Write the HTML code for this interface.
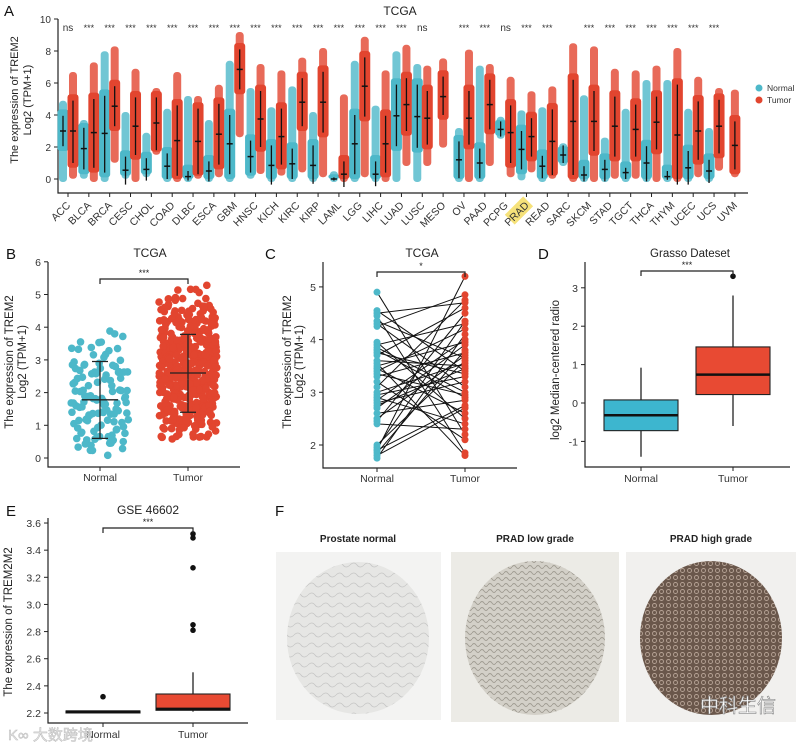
<!DOCTYPE html>
<html><head><meta charset="utf-8"><style>
html,body{margin:0;padding:0;background:#fff;}
svg{display:block;font-family:"Liberation Sans",Arial,sans-serif;}
</style></head><body>
<svg id="fig" width="800" height="745" viewBox="0 0 800 745" xmlns="http://www.w3.org/2000/svg">
<defs>
<pattern id="tex1" width="14" height="10" patternUnits="userSpaceOnUse"><path d="M0 5 Q4 1 7 5 T14 5" stroke="#bdbdbd" stroke-width="0.8" fill="none"/></pattern>
<pattern id="tex2" width="8" height="6" patternUnits="userSpaceOnUse"><path d="M0 3 Q2 0 4 3 T8 3" stroke="#9a968c" stroke-width="0.9" fill="none"/></pattern>
<pattern id="tex3" width="7" height="7" patternUnits="userSpaceOnUse"><circle cx="3.5" cy="3.5" r="2" fill="none" stroke="#c9b6a8" stroke-width="0.9"/></pattern>
</defs>
<g id="gA"></g>
<g id="gB"></g>
<g id="gC"></g>
<g id="gD"></g>
<g id="gE"></g>
<g id="gF">
  <text x="275" y="516" font-size="15" fill="#111">F</text>
  <text x="358" y="542" font-size="10" font-weight="bold" text-anchor="middle" fill="#222">Prostate normal</text>
  <text x="535" y="542" font-size="10" font-weight="bold" text-anchor="middle" fill="#222">PRAD low grade</text>
  <text x="711" y="542" font-size="10" font-weight="bold" text-anchor="middle" fill="#222">PRAD high grade</text>
  <g>
    <rect x="276" y="552" width="165" height="168" fill="#f3f3f2"/>
    <ellipse cx="358" cy="638" rx="71" ry="76" fill="#e6e6e4"/>
    <ellipse cx="358" cy="638" rx="71" ry="76" fill="url(#tex1)" opacity="0.8"/>
  </g>
  <g>
    <rect x="451" y="552" width="168" height="170" fill="#ecebe6"/>
    <ellipse cx="535" cy="638" rx="70" ry="77" fill="#d3d0c8"/>
    <ellipse cx="535" cy="638" rx="70" ry="77" fill="url(#tex2)" opacity="0.9"/>
  </g>
  <g>
    <rect x="626" y="552" width="170" height="170" fill="#f1f0ee"/>
    <ellipse cx="711" cy="638" rx="71" ry="77" fill="#6a574b"/>
    <ellipse cx="711" cy="638" rx="71" ry="77" fill="url(#tex3)" opacity="0.8"/>
  </g>
  <text x="700" y="712" font-size="19" fill="#fff" stroke="#888" stroke-width="0.6" font-family="'Liberation Sans','Noto Sans CJK SC',sans-serif">中科生信</text>
</g>
<text x="8" y="740" font-size="15" fill="#e8e8e8" stroke="#bbb" stroke-width="0.5" font-family="'Liberation Sans','Noto Sans CJK SC',sans-serif">K∞ 大数跨境</text>
</svg>
<script>
// ---------- Panel A data ----------
const catsA = ["ACC","BLCA","BRCA","CESC","CHOL","COAD","DLBC","ESCA","GBM","HNSC","KICH","KIRC","KIRP","LAML","LGG","LIHC","LUAD","LUSC","MESO","OV","PAAD","PCPG","PRAD","READ","SARC","SKCM","STAD","TGCT","THCA","THYM","UCEC","UCS","UVM"];
const sigA = ["ns","***","***","***","***","***","***","***","***","***","***","***","***","***","***","***","***","ns","","***","***","ns","***","***","","***","***","***","***","***","***","***",""];
const normMed = [3.0,1.9,2.85,0.55,0.6,0.8,0.15,0.5,2.2,1.4,0.85,0.95,0.85,0.0,2.2,0.3,3.95,3.9,null,1.2,1.0,3.1,1.85,0.8,1.5,0.25,0.6,0.4,1.0,0.15,0.7,0.5,null];
const normLo = [2.05,0.6,0.4,-0.35,-0.1,0,-0.1,-0.15,0.3,0.4,-0.35,0,-0.3,-0.1,0.3,-0.45,2.05,1.95,null,0.05,0.05,2.65,0.6,0.05,1.0,-0.15,-0.15,0,-0.15,-0.05,-0.35,-0.25,null];
const normHi = [3.95,3.2,5.2,1.4,1.3,1.6,0.5,1.1,4.0,2.4,2.1,1.9,2.1,0.1,4.0,1.1,5.9,5.9,null,2.35,1.9,3.6,3.0,1.45,2.1,0.8,1.2,0.7,2.05,0.5,1.75,1.2,null];
const normMin = [0,0.2,0,0.2,0.3,0,0,0,0,0.2,0,0,0,0,0,0,0,0,null,0,0,2.7,0.1,0,1.0,0,0,0,0,0,0,0,null];
const normMax = [4.7,3.5,7.8,4.0,2.7,4.2,5.0,3.5,7.2,5.5,4.3,5.6,4.0,0.3,7.2,4.4,7.8,7.0,null,3.0,6.9,3.7,4.1,4.3,2.05,5.05,2.4,4.2,6.0,6.0,4.2,3.0,null];
const tumMed = [3.0,2.9,4.55,3.3,3.5,2.4,2.35,2.8,6.85,3.75,2.65,4.8,4.8,0.3,5.8,2.2,4.65,3.8,5.15,3.8,4.65,2.9,2.65,2.35,3.6,3.6,3.3,3.1,3.55,2.75,3.0,3.3,2.1];
const tumLo = [1.0,0.7,3.3,1.5,1.8,0.2,0.3,0.9,5.6,2.0,0.9,3.3,2.9,-0.5,3.9,0.4,3.0,2.15,4.0,2.15,3.1,1.0,1.4,0.25,0.25,1.75,1.4,1.4,1.85,-0.35,1.2,1.6,0.6];
const tumHi = [4.9,5.0,5.8,5.1,5.1,4.6,4.4,4.7,8.1,5.5,4.4,6.3,6.7,1.1,7.6,3.95,6.3,5.5,6.4,5.5,6.2,4.6,3.8,4.35,6.2,5.5,5.15,4.65,5.15,5.9,4.85,4.95,3.6];
const tumMin = [0.2,0,1.2,0,1.7,0,0.2,0.3,2.8,0.5,0.4,0.6,0.3,0,0.3,0,1.0,1.0,2.15,0,1.0,0.3,0.6,0.2,0,0,0.2,0.2,0,0,0.3,0.7,0.3];
const tumMax = [6.5,7.1,8.1,6.7,5.5,6.5,5.0,5.7,9.0,7.0,6.6,7.4,8.0,5.1,8.7,6.6,8.2,6.9,7.35,7.9,7.0,6.2,5.3,5.6,8.3,8.1,6.7,6.6,6.9,8.0,6.2,5.5,5.4];
const ticksA = [0,2,4,6,8,10];

// ---------- Panel B data ----------
const statsB = {normal:{mean:1.78, lo:0.6, hi:2.95, min:0, max:4.0, n:120}, tumor:{mean:2.6, lo:1.4, hi:3.78, min:0.55, max:5.3, n:480}};
const ticksB = [0,1,2,3,4,5,6];

// ---------- Panel C data ----------
const cNormal = [4.9,4.55,4.5,4.45,4.3,4.25,3.95,3.9,3.85,3.8,3.7,3.6,3.55,3.5,3.45,3.4,3.3,3.2,3.1,3.0,2.95,2.9,2.85,2.8,2.7,2.6,2.5,2.45,2.4,2.0,1.95,1.9,1.85,1.8,1.75,3.75,3.35,2.75,4.35,1.9];
const cTumor  = [2.2,3.4,4.7,1.85,3.1,4.85,2.5,4.3,3.0,2.9,4.6,3.5,1.8,3.95,2.6,4.2,3.75,2.1,4.75,3.55,3.3,2.4,4.0,3.2,3.9,2.85,3.7,4.5,2.3,3.6,4.35,5.2,3.8,2.7,4.1,3.35,2.95,3.45,3.65,2.75];
const ticksC = [2,3,4,5];

// ---------- Panel D data ----------
const boxD = [
  {name:"Normal", wlo:-1.4, q1:-0.72, med:-0.32, q3:0.08, whi:0.92, out:[]},
  {name:"Tumor",  wlo:-0.6, q1:0.22, med:0.74, q3:1.46, whi:2.8, out:[3.3]}
];
const ticksD = [-1,0,1,2,3];

// ---------- Panel E data ----------
const boxE = [
  {name:"Normal", wlo:2.21, q1:2.205, med:2.21, q3:2.215, whi:2.21, out:[2.32]},
  {name:"Tumor",  wlo:2.21, q1:2.22, med:2.23, q3:2.34, whi:2.5, out:[3.52,3.49,3.27,2.85,2.81]}
];
const ticksE = [2.2,2.4,2.6,2.8,3.0,3.2,3.4,3.6];

const NS="http://www.w3.org/2000/svg";
const CN="#4db8c9", CT="#e2452f";
function mk(parent, tag, attrs, text){
  const e=document.createElementNS(NS,tag);
  for(const k in attrs) e.setAttribute(k, attrs[k]);
  if(text!==undefined) e.textContent=text;
  parent.appendChild(e); return e;
}
function seq(i, b){ let f=1, r=0; while(i>0){ f/=b; r+=f*(i%b); i=Math.floor(i/b);} return r; }

// ====== Panel A ======
(function(){
  const g=document.getElementById('gA');
  const x0=58, x1=748, yb=193;
  const y=v=>179-v*16;
  const xc=i=>68+i*20.84;
  let t;
  t=mk(g,'text',{x:4,y:16,'font-size':15,fill:'#111'},'A');
   
  t=mk(g,'text',{x:400,y:15,'font-size':12,'text-anchor':'middle',fill:'#222'},'TCGA');
   
  const yt=mk(g,'text',{transform:'translate(18,100) rotate(-90)','font-size':11,'text-anchor':'middle',fill:'#222'},'The expression of TREM2');
   
  const yt2=mk(g,'text',{transform:'translate(31,100) rotate(-90)','font-size':11,'text-anchor':'middle',fill:'#222'},'Log2 (TPM+1)');
   
  const ax=mk(g,'path',{d:`M${x0} ${y(10)} V${yb} H${x1}`,stroke:'#222','stroke-width':1.2,fill:'none'});
   
  ticksA.forEach(v=>{
    mk(g,'line',{x1:x0-4,x2:x0,y1:y(v),y2:y(v),stroke:'#222'});
    const l=mk(g,'text',{x:x0-7,y:y(v)+4,'font-size':10,'text-anchor':'end',fill:'#333'},String(v));
     
  });
  function strip(cx,med,lo,hi,mn,mx,col,nm){
    const gg=mk(g,'g',{});
     
    mk(gg,'rect',{x:cx-4,y:y(mx)-3,width:8,height:y(mn)-y(mx)+6,rx:3.5,fill:col,opacity:0.8});
    const top=Math.min(hi+0.4,mx), bot=Math.max(lo-0.3,mn);
    mk(gg,'rect',{x:cx-5.5,y:y(top),width:11,height:Math.max(2,y(bot)-y(top)),rx:3,fill:col});
    mk(gg,'line',{x1:cx,x2:cx,y1:y(hi),y2:y(lo),stroke:'#111','stroke-width':1.3});
    mk(gg,'line',{x1:cx-3,x2:cx+3,y1:y(med),y2:y(med),stroke:'#111','stroke-width':1.5});
  }
  catsA.forEach((c,i)=>{
    const cx=xc(i);
    const hasN = normMed[i]!==null;
    if(hasN) strip(cx-5,normMed[i],normLo[i],normHi[i],normMin[i],normMax[i],CN,'normal-strip-'+c.toLowerCase());
    strip(hasN?cx+5:cx,tumMed[i],tumLo[i],tumHi[i],tumMin[i],tumMax[i],CT,'tumor-strip-'+c.toLowerCase());
    mk(g,'line',{x1:cx,x2:cx,y1:yb,y2:yb+4,stroke:'#222'});
    if(c==="PRAD"){
      const hl=mk(g,'rect',{x:cx-22,y:yb+7,width:26,height:14,fill:'#f6e27a',transform:`rotate(-45 ${cx-4} ${yb+14})`});
       
    }
    const lab=mk(g,'text',{x:cx+3,y:yb+13,'font-size':10.5,'text-anchor':'end',fill:'#333',transform:`rotate(-45 ${cx+3} ${yb+13})`},c);
     
    if(sigA[i]){
      const s=mk(g,'text',{x:cx,y:31,'font-size':sigA[i]==='ns'?10:9,'text-anchor':'middle',fill:'#333'},sigA[i]);
       
    }
  });
  const lg=mk(g,'g',{});
   
  mk(lg,'circle',{cx:759,cy:88,r:3.5,fill:CN});
  mk(lg,'text',{x:767,y:91,'font-size':8.5,fill:'#333'},'Normal');
  mk(lg,'circle',{cx:759,cy:100,r:3.5,fill:CT});
  mk(lg,'text',{x:767,y:103,'font-size':8.5,fill:'#333'},'Tumor');
})();

function axes(g, id, x0, x1, ytop, yb, y, ticks, fmt){
  const a=mk(g,'path',{d:`M${x0} ${ytop} V${yb} H${x1}`,stroke:'#222','stroke-width':1.2,fill:'none'});
   
  ticks.forEach(v=>{
    mk(g,'line',{x1:x0-4,x2:x0,y1:y(v),y2:y(v),stroke:'#222'});
    const l=mk(g,'text',{x:x0-7,y:y(v)+4,'font-size':10.5,'text-anchor':'end',fill:'#333'},fmt?fmt(v):String(v));
     
  });
}
function label(g,x,y,txt,size,name,extra){
  const t=mk(g,'text',Object.assign({x:x,y:y,'font-size':size,fill:'#222','text-anchor':'middle'},extra||{}),txt);
    return t;
}
function bracket(g,xa,xb,yy,txt,name){
  const p=mk(g,'path',{d:`M${xa} ${yy+5} V${yy} H${xb} V${yy+5}`,stroke:'#222','stroke-width':1.2,fill:'none'});
   
  label(g,(xa+xb)/2,yy-3,txt,9,name+'-label');
}

// ====== Panel B ======
(function(){
  const g=document.getElementById('gB');
  const x0=48, yb=467, y=v=>458-v*32.7;
  const xs={normal:100, tumor:188};
  label(g,6,259,'B',15,'panel-b-letter',{'text-anchor':'start',fill:'#111'});
  label(g,150,257,'TCGA',12,'panel-b-title');
  label(g,0,0,'The expression of TREM2',11.5,'panel-b-y-title',{transform:'translate(13,362) rotate(-90)'});
  label(g,0,0,'Log2 (TPM+1)',11.5,'panel-b-y-unit',{transform:'translate(26,362) rotate(-90)'});
  axes(g,'panel-b',x0,240,262,yb,y,ticksB);
  ['normal','tumor'].forEach(k=>{
    const s=statsB[k], col=k==='normal'?CN:CT;
    const gg=mk(g,'g',{});
     
    for(let i=1;i<=s.n;i++){
      const w=seq(i,3);
      const z=(seq(i,2)+seq(i,5)+seq(i,7)-1.5)/0.5;
      let v=s.mean+z*(s.hi-s.lo)/2;
      if(v<s.min||v>s.max) v=s.mean+(seq(i,11)-0.5)*(s.max-s.min)*0.9;
      mk(gg,'circle',{cx:xs[k]+(w-0.5)*58,cy:y(v),r:3.8,fill:col});
    }
    const eb=mk(g,'path',{d:`M${xs[k]-8} ${y(s.hi)} H${xs[k]+8} M${xs[k]} ${y(s.hi)} V${y(s.lo)} M${xs[k]-8} ${y(s.lo)} H${xs[k]+8} M${xs[k]-18} ${y(s.mean)} H${xs[k]+18}`,stroke:'#222','stroke-width':1.3,fill:'none'});
     
    mk(g,'line',{x1:xs[k],x2:xs[k],y1:yb,y2:yb+4,stroke:'#222'});
    label(g,xs[k],481,k==='normal'?'Normal':'Tumor',10.5,'panel-b-x-label-'+k,{fill:'#333'});
  });
  bracket(g,100,188,279,'***','panel-b-sig');
})();

// ====== Panel C ======
(function(){
  const g=document.getElementById('gC');
  const x0=323, yb=468, y=v=>445-(v-2)*52.7;
  const xn=377, xt=465;
  label(g,265,259,'C',15,'panel-c-letter',{'text-anchor':'start',fill:'#111'});
  label(g,422,257,'TCGA',12,'panel-c-title');
  label(g,0,0,'The expression of TREM2',11.5,'panel-c-y-title',{transform:'translate(291,362) rotate(-90)'});
  label(g,0,0,'Log2 (TPM+1)',11.5,'panel-c-y-unit',{transform:'translate(303,362) rotate(-90)'});
  axes(g,'panel-c',x0,517,262,yb,y,ticksC);
  const gl=mk(g,'g',{});
   
  cNormal.forEach((v,i)=>{
    mk(gl,'line',{x1:xn,y1:y(v),x2:xt,y2:y(cTumor[i]),stroke:'#111','stroke-width':1});
  });
  const gn=mk(g,'g',{});  
  cNormal.forEach(v=>mk(gn,'circle',{cx:xn,cy:y(v),r:3.5,fill:CN}));
  const gt=mk(g,'g',{});  
  cTumor.forEach(v=>mk(gt,'circle',{cx:xt,cy:y(v),r:3.5,fill:CT}));
  [[xn,'Normal'],[xt,'Tumor']].forEach(([x,n])=>{
    mk(g,'line',{x1:x,x2:x,y1:yb,y2:yb+4,stroke:'#222'});
    label(g,x,482,n,10.5,'panel-c-x-label-'+n.toLowerCase(),{fill:'#333'});
  });
  bracket(g,xn,xt,272,'*','panel-c-sig');
})();

function boxes(g,id,data,xs,y,hw,cols){
  data.forEach((b,i)=>{
    const x=xs[i];
    const gg=mk(g,'g',{});
     
    mk(gg,'line',{x1:x,x2:x,y1:y(b.whi),y2:y(b.wlo),stroke:'#111','stroke-width':1.2});
    mk(gg,'rect',{x:x-hw,y:y(b.q3),width:2*hw,height:Math.max(2,y(b.q1)-y(b.q3)),fill:cols[i],stroke:'#222','stroke-width':1.1});
    mk(gg,'line',{x1:x-hw,x2:x+hw,y1:y(b.med),y2:y(b.med),stroke:'#111','stroke-width':2.5});
    b.out.forEach(o=>mk(gg,'circle',{cx:x,cy:y(o),r:2.8,fill:'#111'}));
  });
}

// ====== Panel D ======
(function(){
  const g=document.getElementById('gD');
  const x0=585, yb=467, y=v=>403-v*38.4;
  const xs=[641,733];
  label(g,538,259,'D',15,'panel-d-letter',{'text-anchor':'start',fill:'#111'});
  label(g,690,257,'Grasso Dateset',11.5,'panel-d-title');
  label(g,0,0,'log2 Median-centered radio',11.5,'panel-d-y-title',{transform:'translate(559,370) rotate(-90)'});
  axes(g,'panel-d',x0,790,262,yb,y,ticksD);
  boxes(g,'panel-d',boxD,xs,y,37,['#3db6cf','#e84a33']);
  xs.forEach((x,i)=>{
    mk(g,'line',{x1:x,x2:x,y1:yb,y2:yb+4,stroke:'#222'});
    label(g,x,482,boxD[i].name,10.5,'panel-d-x-label-'+boxD[i].name.toLowerCase(),{fill:'#333'});
  });
  bracket(g,xs[0],xs[1],271,'***','panel-d-sig');
})();

// ====== Panel E ======
(function(){
  const g=document.getElementById('gE');
  const x0=48, yb=723, y=v=>713-(v-2.2)*135.7;
  const xs=[103,193];
  label(g,6,516,'E',15,'panel-e-letter',{'text-anchor':'start',fill:'#111'});
  label(g,148,514,'GSE 46602',12,'panel-e-title');
  label(g,0,0,'The expression of TREM2M2',11.5,'panel-e-y-title',{transform:'translate(12,622) rotate(-90)'});
  axes(g,'panel-e',x0,248,518,yb,y,ticksE,v=>v.toFixed(1));
  boxes(g,'panel-e',boxE,xs,y,37,['#e84a33','#e84a33']);
  xs.forEach((x,i)=>{
    mk(g,'line',{x1:x,x2:x,y1:yb,y2:yb+4,stroke:'#222'});
    label(g,x,738,boxE[i].name,10.5,'panel-e-x-label-'+boxE[i].name.toLowerCase(),{fill:'#333'});
  });
  bracket(g,xs[0],xs[1],528,'***','panel-e-sig');
})();
</script>
</body></html>
